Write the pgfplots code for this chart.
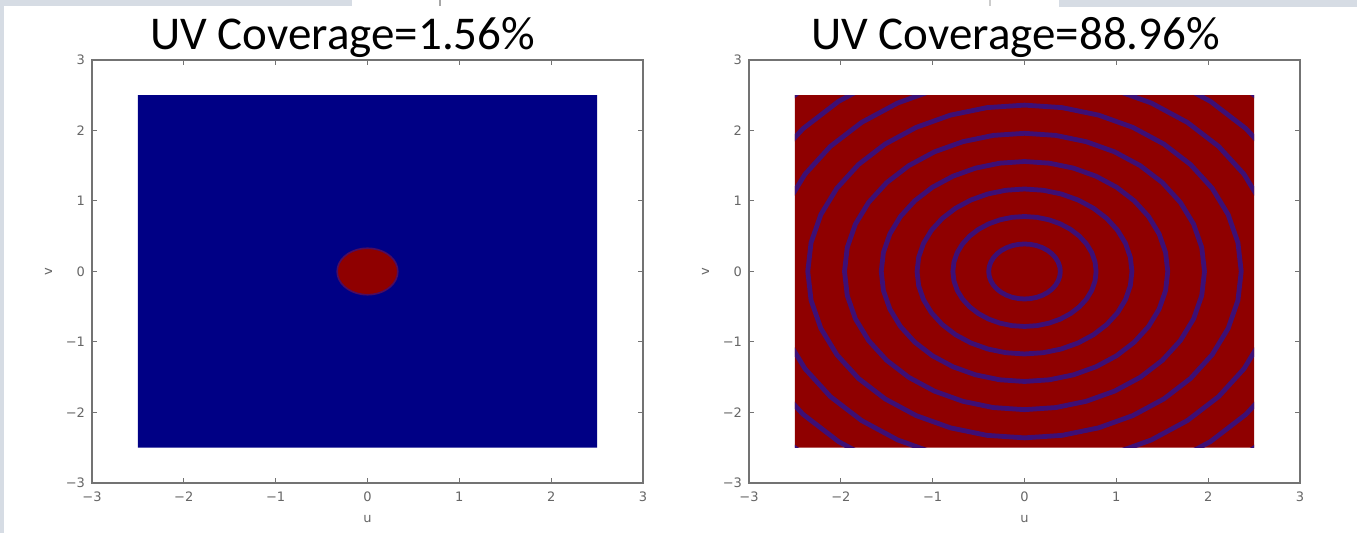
\documentclass[border=0pt]{standalone}
\usepackage{fontspec}
\setmainfont{Carlito}
\newfontfamily\tickfont{DejaVu Sans}
\usepackage{pgfplots}
\usepackage{pgfplotstable}
\pgfplotsset{compat=1.18}
\definecolor{slidegrey}{HTML}{D6DCE4}
\definecolor{jetblue}{rgb}{0,0,0.52}
\definecolor{jetred}{rgb}{0.56,0,0}
\definecolor{ringblue}{rgb}{0.24,0.06,0.46}

% angle (deg), disk radius (left), ring radii (right)
\pgfplotstableread{
a   d    r1   r2   r3   r4   r5   r6   r7   r8   r9
0   0.33 0.39 0.78 1.17 1.56 1.96 2.36 2.76 3.15 3.55
10  0.33 0.39 0.78 1.17 1.56 1.96 2.36 2.76 3.15 3.55
20  0.33 0.39 0.78 1.17 1.56 1.96 2.36 2.76 3.15 3.55
30  0.33 0.39 0.78 1.17 1.56 1.96 2.36 2.76 3.15 3.55
40  0.33 0.39 0.78 1.17 1.56 1.96 2.36 2.76 3.15 3.55
50  0.33 0.39 0.78 1.17 1.56 1.96 2.36 2.76 3.15 3.55
60  0.33 0.39 0.78 1.17 1.56 1.96 2.36 2.76 3.15 3.55
70  0.33 0.39 0.78 1.17 1.56 1.96 2.36 2.76 3.15 3.55
80  0.33 0.39 0.78 1.17 1.56 1.96 2.36 2.76 3.15 3.55
90  0.33 0.39 0.78 1.17 1.56 1.96 2.36 2.76 3.15 3.55
100 0.33 0.39 0.78 1.17 1.56 1.96 2.36 2.76 3.15 3.55
110 0.33 0.39 0.78 1.17 1.56 1.96 2.36 2.76 3.15 3.55
120 0.33 0.39 0.78 1.17 1.56 1.96 2.36 2.76 3.15 3.55
130 0.33 0.39 0.78 1.17 1.56 1.96 2.36 2.76 3.15 3.55
140 0.33 0.39 0.78 1.17 1.56 1.96 2.36 2.76 3.15 3.55
150 0.33 0.39 0.78 1.17 1.56 1.96 2.36 2.76 3.15 3.55
160 0.33 0.39 0.78 1.17 1.56 1.96 2.36 2.76 3.15 3.55
170 0.33 0.39 0.78 1.17 1.56 1.96 2.36 2.76 3.15 3.55
180 0.33 0.39 0.78 1.17 1.56 1.96 2.36 2.76 3.15 3.55
190 0.33 0.39 0.78 1.17 1.56 1.96 2.36 2.76 3.15 3.55
200 0.33 0.39 0.78 1.17 1.56 1.96 2.36 2.76 3.15 3.55
210 0.33 0.39 0.78 1.17 1.56 1.96 2.36 2.76 3.15 3.55
220 0.33 0.39 0.78 1.17 1.56 1.96 2.36 2.76 3.15 3.55
230 0.33 0.39 0.78 1.17 1.56 1.96 2.36 2.76 3.15 3.55
240 0.33 0.39 0.78 1.17 1.56 1.96 2.36 2.76 3.15 3.55
250 0.33 0.39 0.78 1.17 1.56 1.96 2.36 2.76 3.15 3.55
260 0.33 0.39 0.78 1.17 1.56 1.96 2.36 2.76 3.15 3.55
270 0.33 0.39 0.78 1.17 1.56 1.96 2.36 2.76 3.15 3.55
280 0.33 0.39 0.78 1.17 1.56 1.96 2.36 2.76 3.15 3.55
290 0.33 0.39 0.78 1.17 1.56 1.96 2.36 2.76 3.15 3.55
300 0.33 0.39 0.78 1.17 1.56 1.96 2.36 2.76 3.15 3.55
310 0.33 0.39 0.78 1.17 1.56 1.96 2.36 2.76 3.15 3.55
320 0.33 0.39 0.78 1.17 1.56 1.96 2.36 2.76 3.15 3.55
330 0.33 0.39 0.78 1.17 1.56 1.96 2.36 2.76 3.15 3.55
340 0.33 0.39 0.78 1.17 1.56 1.96 2.36 2.76 3.15 3.55
350 0.33 0.39 0.78 1.17 1.56 1.96 2.36 2.76 3.15 3.55
360 0.33 0.39 0.78 1.17 1.56 1.96 2.36 2.76 3.15 3.55
}\polartab

\pgfplotstableread{
x    y
-2.5 -2.5
2.5  -2.5
2.5  2.5
-2.5 2.5
-2.5 -2.5
}\recttab

\pgfplotsset{
  uvax/.style={
    scale only axis, width=275.5pt, height=211.5pt,
    xmin=-3, xmax=3, ymin=-3, ymax=3,
    xtick={-3,-2,-1,0,1,2,3}, ytick={-3,-2,-1,0,1,2,3},
    xticklabels={−3,−2,−1,0,1,2,3}, yticklabels={−3,−2,−1,0,1,2,3},
    tick align=inside, xtick pos=both, ytick pos=both,
    xticklabel pos=bottom, yticklabel pos=left,
    major tick length=2.5pt,
    axis line style={black!55, line width=0.6pt},
    tick style={black!55, line width=0.5pt},
    ticklabel style={font=\tickfont\fontsize{6.5}{7}\selectfont, text=black!60},
    label style={font=\tickfont\fontsize{6.5}{7}\selectfont, text=black!60},
    xlabel={u}, ylabel={v},
    xticklabel style={yshift=-1pt},
    anchor=south west,
  },
  ringax/.style={
    hide axis, scale only axis, width=229.583pt, height=176.25pt,
    xmin=-2.5, xmax=2.5, ymin=-2.5, ymax=2.5, anchor=center,
  },
}

\begin{document}
\begin{tikzpicture}[x=0.5pt,y=0.5pt]
\fill[white] (0,0) rectangle (1357,533);
\fill[slidegrey] (0,0) rectangle (4,533);
\fill[slidegrey] (0,527) rectangle (352,533);
\fill[slidegrey] (1059,526) rectangle (1357,533);
\fill[gray!70] (439,527) rectangle (441,533);
\fill[gray!40] (989,527) rectangle (991,533);

\node[anchor=base west, inner sep=0pt, font=\fontsize{23.5}{26}\selectfont] at (150,483) {UV Coverage=1.56\%};
\node[anchor=base west, inner sep=0pt, font=\fontsize{23.5}{26}\selectfont] at (811,483) {UV Coverage=88.96\%};

% left panel
\begin{axis}[uvax, at={(46pt,25pt)}]
\addplot[fill=jetblue, draw=none] table[x=x, y=y] {\recttab};
\addplot[fill=jetred, draw=ringblue!80!jetred, line width=0.8pt, data cs=polar] table[x=a, y=d] {\polartab};
\end{axis}

% right panel
\begin{axis}[uvax, at={(374.5pt,25pt)}]
\addplot[fill=jetred, draw=none] table[x=x, y=y] {\recttab};
\end{axis}
\begin{axis}[ringax, at={(512.25pt,130.75pt)}]
\pgfplotsinvokeforeach{r1,r2,r3,r4,r5,r6,r7,r8,r9}{
  \addplot[ringblue, line width=2.4pt, mark=none, data cs=polar] table[x=a, y=#1] {\polartab};
}
\end{axis}
\end{tikzpicture}
\end{document}
